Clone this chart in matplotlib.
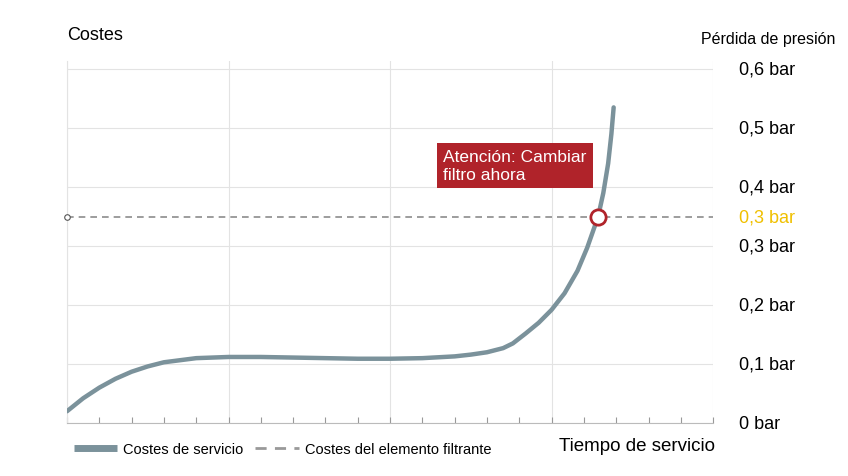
import matplotlib.pyplot as plt
import numpy as np

plt.rcParams['font.family'] = ['Liberation Sans', 'DejaVu Sans']

# datos
tiempo = [0, 0.5, 1, 1.5, 2, 2.5, 3, 4, 5, 6, 7, 8, 9, 10, 11, 12, 12.5, 13, 13.5, 13.8, 14.2, 14.6, 15, 15.4, 15.8, 16.1, 16.44, 16.6, 16.75, 16.85, 16.92]
costes = [0.02, 0.042, 0.06, 0.075, 0.087, 0.096, 0.103, 0.11, 0.112, 0.112, 0.111, 0.11, 0.109, 0.109, 0.11, 0.113, 0.116, 0.12, 0.127, 0.135, 0.152, 0.17, 0.192, 0.22, 0.258, 0.297, 0.35, 0.39, 0.44, 0.49, 0.535]
umbral = 0.35
yticks = [0, 0.1, 0.2, 0.3, 0.4, 0.5, 0.6]
ylabels = ['0 bar', '0,1 bar', '0,2 bar', '0,3 bar', '0,4 bar', '0,5 bar', '0,6 bar']

fig = plt.figure(figsize=(8.48, 4.77), dpi=100)
ax = fig.add_axes([0.079, 0.111, 0.762, 0.759])
ax.set_xlim(0, 20)
ax.set_ylim(0, 0.6136)

for x in [0, 5, 10, 15, 20]:
    ax.axvline(x, color='#e3e3e3', lw=0.8, zorder=0)
for y in yticks:
    ax.axhline(y, color='#e3e3e3', lw=0.8, zorder=0)

ax.plot(tiempo, costes, color='#7b929b', lw=3.2, solid_capstyle='round', solid_joinstyle='round',
        label='Costes de servicio', zorder=3)
ax.axhline(umbral, color='#8c8c8c', lw=1.2, ls=(0, (4, 3)), label='Costes del elemento filtrante', zorder=2)
ax.plot([0], [umbral], 'o', ms=4, mfc='white', mec='#555555', mew=0.8, clip_on=False, zorder=4)
ax.plot([16.44], [umbral], 'o', ms=11, mfc='white', mec='#b0232a', mew=2, zorder=5)

ax.text(11.65, 0.465, 'Atención: Cambiar\nfiltro ahora', color='white', fontsize=12.5, va='top', ha='left',
        linespacing=1.3, bbox=dict(boxstyle='square,pad=0.35', fc='#b0232a', ec='none'), zorder=6)

for s in ['top', 'right']:
    ax.spines[s].set_visible(False)
ax.spines['left'].set_color('#e3e3e3')
ax.spines['bottom'].set_color('#bbbbbb')
ax.set_xticks(range(0, 21))
ax.set_xticklabels([])
ax.tick_params(axis='x', length=4, color='#999999', direction='in')
ax.set_yticks([])

for y, lab in zip(yticks, ylabels):
    ax.text(1.04, y / 0.6136, lab, transform=ax.transAxes, fontsize=13, va='center', ha='left')
ax.text(1.04, umbral / 0.6136, '0,3 bar', transform=ax.transAxes, fontsize=13, va='center', ha='left', color='#f0c000')

fig.text(0.079, 0.925, 'Costes', fontsize=13, va='center', ha='left')
fig.text(0.985, 0.918, 'Pérdida de presión', fontsize=11.5, va='center', ha='right')
fig.text(0.843, 0.063, 'Tiempo de servicio', fontsize=13.5, va='center', ha='right')

leg = ax.legend(loc='upper left', bbox_to_anchor=(-0.01, -0.015), ncol=2, frameon=False, fontsize=10.5,
                handlelength=3, columnspacing=0.8, handletextpad=0.4)
leg.get_lines()[0].set_linewidth(5)
leg.get_lines()[0].set_solid_capstyle('butt')
leg.get_lines()[1].set_linewidth(2)
leg.get_lines()[1].set_color('#999999')

fig.savefig('out.png', dpi=100)
